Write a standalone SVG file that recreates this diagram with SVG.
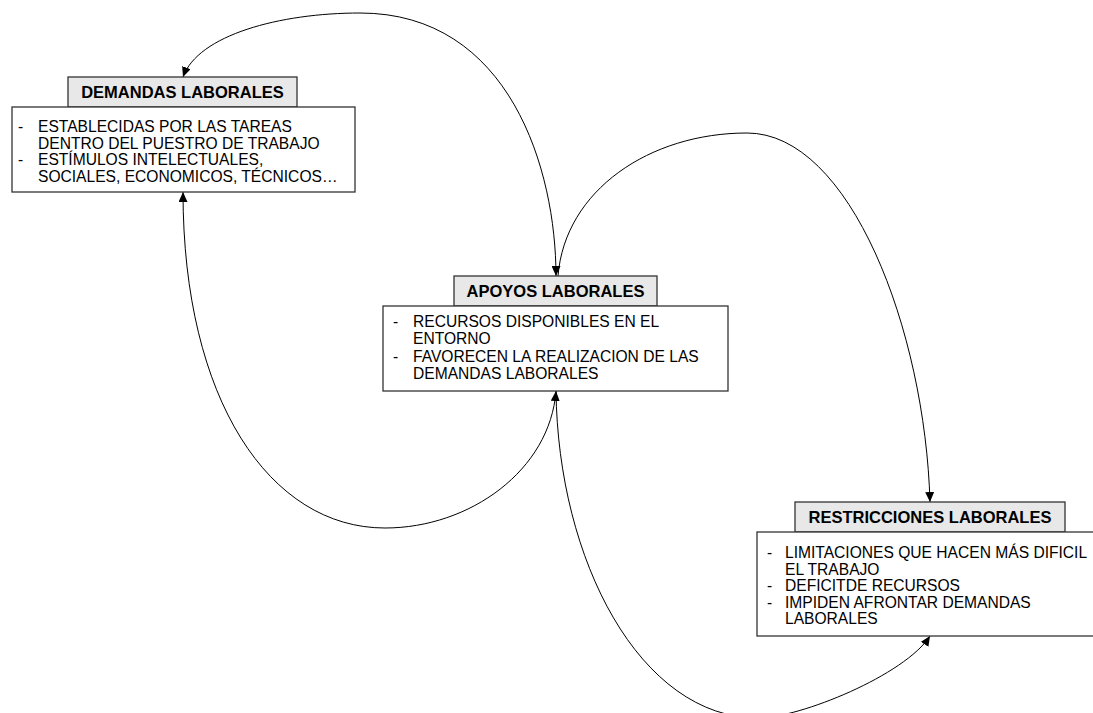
<svg xmlns="http://www.w3.org/2000/svg" width="1093" height="713" viewBox="0 0 1093 713">
  <style>
    .title { fill: #e8e8e8; stroke: #333333; stroke-width: 1.3; }
    .body { fill: #ffffff; stroke: #333333; stroke-width: 1.3; }
    .ttl { font-family: "Liberation Sans", Arial, sans-serif; font-weight: bold; font-size: 16.5px; fill: #000000; text-anchor: middle; }
    .txt { font-family: "Liberation Sans", Arial, sans-serif; font-size: 15.6px; fill: #000000; }
    .link { fill: none; stroke: #000000; stroke-width: 1; }
  </style>
  <defs>
    <marker id="arrow" markerUnits="userSpaceOnUse" markerWidth="10" markerHeight="9" refX="10" refY="4.5" orient="auto-start-reverse">
      <path d="M0,0 L10,4.5 L0,9 z" fill="#000000"/>
    </marker>
  </defs>

  <rect width="1093" height="713" fill="#ffffff"/>

  <!-- connectors -->
  <g id="connectors">
    <path class="link" d="M556,276 C556,170 510,13 360,13 C280,13 198,35 183,77" marker-start="url(#arrow)" marker-end="url(#arrow)"/>
    <path class="link" d="M558,276 C565,190 650,133 747,133 C850,133 925,330 930,502" marker-end="url(#arrow)"/>
    <path class="link" d="M183,192 C183,400 270,528 385,528 C470,528 550,470 556,391" marker-start="url(#arrow)" marker-end="url(#arrow)"/>
    <path class="link" d="M556,391 C558,560 640,718 758,718 C800,718 905,675 930,636" marker-end="url(#arrow)"/>
  </g>

  <!-- job demands -->
  <g id="demandas">
    <rect class="title" x="68" y="77" width="229" height="30"/>
    <text class="ttl" x="182.5" y="98">DEMANDAS LABORALES</text>
    <rect class="body" x="12" y="107" width="343" height="85"/>
    <text class="txt" x="18" y="132">-</text>
    <text class="txt" x="38" y="132">ESTABLECIDAS POR LAS TAREAS</text>
    <text class="txt" x="38" y="148.5">DENTRO DEL PUESTRO DE TRABAJO</text>
    <text class="txt" x="18" y="165">-</text>
    <text class="txt" x="38" y="165">ESTÍMULOS INTELECTUALES,</text>
    <text class="txt" x="38" y="181.5">SOCIALES, ECONOMICOS, TÉCNICOS…</text>
  </g>

  <!-- job supports -->
  <g id="apoyos">
    <rect class="title" x="454" y="276" width="203" height="30"/>
    <text class="ttl" x="555.5" y="297">APOYOS LABORALES</text>
    <rect class="body" x="383" y="306" width="345" height="85"/>
    <text class="txt" x="393" y="326.5">-</text>
    <text class="txt" x="413" y="326.5">RECURSOS DISPONIBLES EN EL</text>
    <text class="txt" x="413" y="344">ENTORNO</text>
    <text class="txt" x="393" y="361.5">-</text>
    <text class="txt" x="413" y="361.5">FAVORECEN LA REALIZACION DE LAS</text>
    <text class="txt" x="413" y="379">DEMANDAS LABORALES</text>
  </g>

  <!-- job constraints -->
  <g id="restricciones">
    <rect class="title" x="795" y="502" width="270" height="30"/>
    <text class="ttl" x="930" y="523">RESTRICCIONES LABORALES</text>
    <rect class="body" x="757" y="532" width="345" height="104"/>
    <text class="txt" x="767" y="558">-</text>
    <text class="txt" x="785" y="558">LIMITACIONES QUE HACEN MÁS DIFICIL</text>
    <text class="txt" x="785" y="574.5">EL TRABAJO</text>
    <text class="txt" x="767" y="591">-</text>
    <text class="txt" x="785" y="591">DEFICITDE RECURSOS</text>
    <text class="txt" x="767" y="607.5">-</text>
    <text class="txt" x="785" y="607.5">IMPIDEN AFRONTAR DEMANDAS</text>
    <text class="txt" x="785" y="624">LABORALES</text>
  </g>
</svg>
